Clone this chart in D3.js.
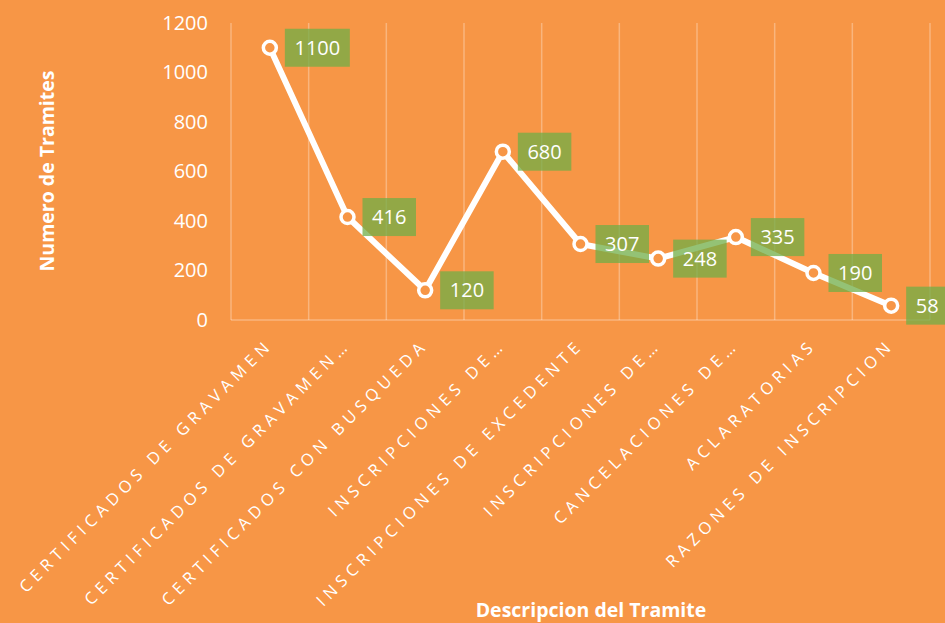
<!DOCTYPE html>
<html>
<head>
<meta charset="utf-8">
<script src="https://cdn.jsdelivr.net/npm/d3@7"></script>
<style>
  body { margin: 0; background: #F79646; }
  svg { display: block; font-family: "Open Sans", sans-serif; }
</style>
</head>
<body>
<svg width="945" height="623"></svg>
<script>
var tramites = [
  "CERTIFICADOS DE GRAVAMEN",
  "CERTIFICADOS DE GRAVAMEN…",
  "CERTIFICADOS CON BUSQUEDA",
  "INSCRIPCIONES DE…",
  "INSCRIPCIONES DE EXCEDENTE",
  "INSCRIPCIONES DE…",
  "CANCELACIONES DE…",
  "ACLARATORIAS",
  "RAZONES DE INSCRIPCION"
];
var cantidades = [1100, 416, 120, 680, 307, 248, 335, 190, 58];
var yTicks = [0, 200, 400, 600, 800, 1000, 1200];

var svg = d3.select("svg"),
    width = +svg.attr("width"),
    height = +svg.attr("height");

var plotLeft = 231, plotRight = 930, plotTop = 23, plotBottom = 320;

svg.append("rect").attr("width", width).attr("height", height).attr("fill", "#F79646");

var x = d3.scaleBand().domain(d3.range(tramites.length)).range([plotLeft, plotRight]);
var y = d3.scaleLinear().domain([0, 1200]).range([plotBottom, plotTop]);

// vertical gridlines
svg.append("g")
  .selectAll("line")
  .data(d3.range(tramites.length + 1))
  .enter().append("line")
  .attr("x1", function(d) { return plotLeft + d * x.step(); })
  .attr("x2", function(d) { return plotLeft + d * x.step(); })
  .attr("y1", plotTop)
  .attr("y2", plotBottom)
  .attr("stroke", "#ffffff")
  .attr("stroke-opacity", 0.3)
  .attr("stroke-width", 1.5);

// baseline
svg.append("line")
  .attr("x1", plotLeft).attr("x2", plotRight)
  .attr("y1", y(0)).attr("y2", y(0))
  .attr("stroke", "#ffffff")
  .attr("stroke-opacity", 0.3)
  .attr("stroke-width", 1.5);

// y axis
var yAxis = svg.append("g")
  .attr("transform", "translate(" + (plotLeft - 20) + ",0)")
  .call(d3.axisLeft(y).tickValues(yTicks).tickFormat(d3.format("d")).tickSize(0).tickPadding(3));
yAxis.select(".domain").remove();
yAxis.selectAll("text")
  .attr("fill", "#ffffff")
  .style("font-size", "20px")
  .style("font-family", "Open Sans, sans-serif");

// x labels
var xAxis = svg.append("g")
  .attr("transform", "translate(0," + plotBottom + ")")
  .call(d3.axisBottom(x).tickSize(0).tickFormat(function(i) { return tramites[i]; }));
xAxis.select(".domain").remove();
xAxis.selectAll("text")
  .attr("fill", "#ffffff")
  .attr("text-anchor", "end")
  .attr("dy", null)
  .attr("y", 0)
  .attr("transform", "translate(4,26) rotate(-45)")
  .style("font-size", "16.5px")
  .style("letter-spacing", "5px")
  .style("font-family", "Open Sans, sans-serif");

// line
var line = d3.line()
  .x(function(d, i) { return x(i) + x.bandwidth() / 2; })
  .y(function(d) { return y(d); });

svg.append("path")
  .datum(cantidades)
  .attr("d", line)
  .attr("fill", "none")
  .attr("stroke", "#ffffff")
  .attr("stroke-width", 6)
  .attr("stroke-linejoin", "round");

svg.append("g")
  .selectAll("circle")
  .data(cantidades)
  .enter().append("circle")
  .attr("cx", function(d, i) { return x(i) + x.bandwidth() / 2; })
  .attr("cy", function(d) { return y(d); })
  .attr("r", 6.5)
  .attr("fill", "#F79646")
  .attr("stroke", "#ffffff")
  .attr("stroke-width", 3.5);

// data labels
var labels = svg.append("g")
  .selectAll("g")
  .data(cantidades)
  .enter().append("g")
  .attr("transform", function(d, i) {
    return "translate(" + (x(i) + x.bandwidth() / 2 + 15) + "," + y(d) + ")";
  });

labels.append("rect")
  .attr("x", 0)
  .attr("y", -19)
  .attr("width", function(d) { return String(d).length * 11.5 + 19; })
  .attr("height", 38)
  .attr("fill", "#70AD47")
  .attr("fill-opacity", 0.75);

labels.append("text")
  .attr("x", function(d) { return (String(d).length * 11.5 + 19) / 2; })
  .attr("y", 7)
  .attr("text-anchor", "middle")
  .attr("fill", "#ffffff")
  .style("font-size", "20px")
  .text(function(d) { return d; });

// axis titles
svg.append("text")
  .attr("transform", "translate(54,171) rotate(-90)")
  .attr("text-anchor", "middle")
  .attr("fill", "#ffffff")
  .style("font-size", "19.5px")
  .style("font-weight", "bold")
  .text("Numero de Tramites");

svg.append("text")
  .attr("x", 591)
  .attr("y", 617)
  .attr("text-anchor", "middle")
  .attr("fill", "#ffffff")
  .style("font-size", "19.5px")
  .style("font-weight", "bold")
  .text("Descripcion del Tramite");
</script>
</body>
</html>
